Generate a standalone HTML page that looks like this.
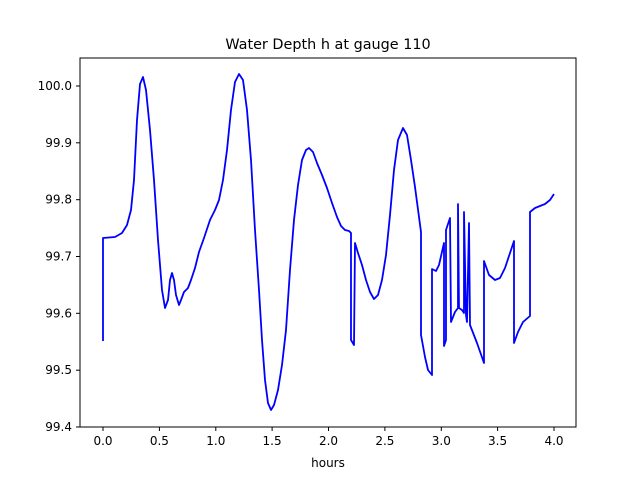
<!DOCTYPE html>
<html><head><style>body{margin:0;background:#fff}svg{display:block}</style></head><body>
<svg width="640" height="480" xmlns="http://www.w3.org/2000/svg" font-family="DejaVu Sans, Liberation Sans, sans-serif">
<rect width="640" height="480" fill="#fff"/>
<polyline fill="none" stroke="#0000ff" stroke-width="1.8" stroke-linejoin="round" points="103,341 103,238 115,237 122,233 127,225 131,210 134,180 137,120 140,84 143,77 146,90 150,130 154,180 158,240 162,290 165,308 168,300 170,280 172,273 174,280 176,295 179,305 181,300 184,292 188,288 191,280 195,268 199,252 204,238 210,220 215,210 219,200 223,180 227,150 231,110 235,82 239,74 243,80 247,110 251,160 255,230 259,290 262,340 265,380 268,403 271,410 274,405 278,390 282,365 286,330 290,270 294,220 298,185 302,160 306,150 309,148 313,152 317,163 322,175 327,188 332,203 337,217 341,226 345,230 349,231 351,233 351,340 354,345 355,243 358,253 362,265 366,280 370,292 374,299 378,295 382,280 386,255 390,215 394,170 398,140 403,128 407,135 411,160 415,187 421,232 421,335 425,357 428,370 432,375 432,269 436,271 439,265 444,243 444,346 446,340 446,230 450,218 451,322 455,312 458,308 458,204 459,308 462,310 464,313 464,212 466,315 467,322 469,223 470,325 477,343 484,363 484,261 489,275 495,280 500,278 505,268 514,241 514,343 518,332 523,322 530,316 530,212 535,208 540,206 545,204 550,200 554,194"/>
<rect x="80" y="58" width="496" height="369" fill="none" stroke="#000" stroke-width="1"/>
<g stroke="#000" stroke-width="1">
<line x1="103" y1="427" x2="103" y2="431"/><line x1="159.4" y1="427" x2="159.4" y2="431"/><line x1="215.8" y1="427" x2="215.8" y2="431"/><line x1="272.1" y1="427" x2="272.1" y2="431"/><line x1="328.5" y1="427" x2="328.5" y2="431"/><line x1="384.9" y1="427" x2="384.9" y2="431"/><line x1="441.3" y1="427" x2="441.3" y2="431"/><line x1="497.6" y1="427" x2="497.6" y2="431"/><line x1="554" y1="427" x2="554" y2="431"/>
<line x1="76" y1="427" x2="80" y2="427"/><line x1="76" y1="370.2" x2="80" y2="370.2"/><line x1="76" y1="313.3" x2="80" y2="313.3"/><line x1="76" y1="256.5" x2="80" y2="256.5"/><line x1="76" y1="199.7" x2="80" y2="199.7"/><line x1="76" y1="142.8" x2="80" y2="142.8"/><line x1="76" y1="86" x2="80" y2="86"/>
</g>
<g font-size="12" fill="#000" text-anchor="middle">
<text x="103" y="445">0.0</text><text x="159.4" y="445">0.5</text><text x="215.8" y="445">1.0</text><text x="272.1" y="445">1.5</text><text x="328.5" y="445">2.0</text><text x="384.9" y="445">2.5</text><text x="441.3" y="445">3.0</text><text x="497.6" y="445">3.5</text><text x="554" y="445">4.0</text>
<text x="328" y="467">hours</text>
</g>
<g font-size="12" fill="#000" text-anchor="end">
<text x="72" y="431">99.4</text><text x="72" y="374.2">99.5</text><text x="72" y="317.3">99.6</text><text x="72" y="260.5">99.7</text><text x="72" y="203.7">99.8</text><text x="72" y="146.8">99.9</text><text x="72" y="90">100.0</text>
</g>
<text x="328" y="49" font-size="14.4" text-anchor="middle">Water Depth h at gauge 110</text>
</svg>
</body></html>
